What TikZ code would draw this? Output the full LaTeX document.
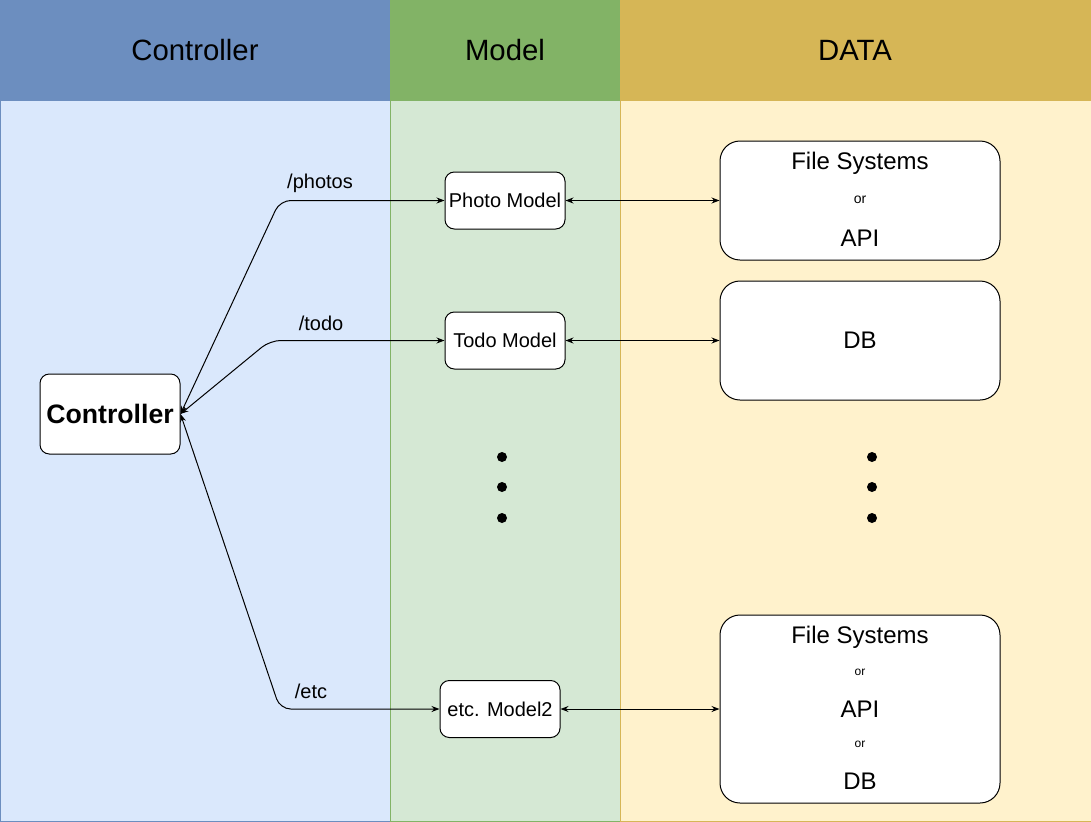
\documentclass[tikz,border=0pt]{standalone}
\usepackage{fontspec}
\setmainfont{Liberation Sans}
\usepackage{xcolor}
\usepackage{tikz}
\usetikzlibrary{arrows.meta, positioning, calc}

\definecolor{ctrlhead}{HTML}{6C8EBF}
\definecolor{ctrlbody}{HTML}{DAE8FC}
\definecolor{modhead}{HTML}{82B366}
\definecolor{modbody}{HTML}{D5E8D4}
\definecolor{datahead}{HTML}{D6B656}
\definecolor{databody}{HTML}{FFF2CC}

\begin{document}
\begin{tikzpicture}[
  x=0.75pt, y=-0.75pt,
  head/.style={font=\fontsize{22}{26}\selectfont},
  box/.style={draw, fill=white, rounded corners=7pt, line width=0.75pt,
              align=center, inner sep=0pt},
  mbox/.style={box, minimum width=90pt, minimum height=42.75pt,
               font=\fontsize{15}{18}\selectfont},
  dbox/.style={box, rounded corners=15pt, minimum width=210pt},
  big/.style={font=\fontsize{18}{21}\selectfont},
  small/.style={font=\fontsize{10.5}{12}\selectfont},
  tiny/.style={font=\fontsize{9}{11}\selectfont},
  lbl/.style={font=\fontsize{15}{18}\selectfont},
  dot/.style={circle, fill=black, inner sep=0pt, minimum size=7.5pt},
  ar/.style={{Stealth[length=6pt,width=4.5pt]}-{Stealth[length=6pt,width=4.5pt]},
             line width=0.75pt, rounded corners=8pt}
]
\useasboundingbox (0,0) rectangle (1091,821);

% lanes
\filldraw[fill=ctrlbody, draw=ctrlhead, line width=0.75pt] (0,100) rectangle (390,821);
\filldraw[fill=modbody, draw=modhead, line width=0.75pt] (390,100) rectangle (620,821);
\filldraw[fill=databody, draw=datahead, line width=0.75pt] (620,100) rectangle (1091,821);
\fill[ctrlhead] (0,0) rectangle (390,100);
\fill[modhead] (390,0) rectangle (620,100);
\fill[datahead] (620,0) rectangle (1091,100);
\node[head] at (195,50) (h-ctrl) {Controller};
\node[head] at (505,50) (h-mod)  {Model};
\node[head] at (855,50) (h-data) {DATA};

% controller
\node[box, minimum width=105pt, minimum height=60pt,
      font=\fontsize{20}{24}\selectfont\bfseries] at (110,414) (ctrl) {Controller};

% models
\node[mbox] at (505,200.5) (photo) {Photo Model};
\node[mbox] at (505,340.5) (todo)  {Todo Model};
\node[mbox] at (500,709)   (etc)   {etc. Model2};

% data stores
\node[dbox, minimum height=89.25pt] at (860,200.5) (fs1) {};
\node[big]   at (860,163) (fs1-a) {File Systems};
\node[small] at (860,200) (fs1-b) {or};
\node[big]   at (860,238) (fs1-c) {API};

\node[dbox, minimum height=89.25pt] at (860,340.5) (db) {};
\node[big] at (860,340) (db-a) {DB};

\node[dbox, minimum height=141pt] at (860,709) (fs2) {};
\node[big]  at (860,637) (fs2-a) {File Systems};
\node[tiny] at (860,672) (fs2-b) {or};
\node[big]  at (860,709) (fs2-c) {API};
\node[tiny] at (860,744) (fs2-d) {or};
\node[big]  at (860,781) (fs2-e) {DB};

% ellipsis
\foreach \y [count=\i] in {457,487,518}{
  \node[dot] at (502,\y) (md\i) {};
  \node[dot] at (872,\y) (dd\i) {};
}

% routes
\draw[ar] (ctrl.east) -- (280,200.5) -- (photo.west);
\draw[ar] (ctrl.east) -- (270,340.5) -- (todo.west);
\draw[ar] (ctrl.east) -- (280,709) -- (etc.west);
\node[lbl] at (320,183) (l-photo) {/photos};
\node[lbl] at (321,323) (l-todo)  {/todo};
\node[lbl] at (311,691) (l-etc)   {/etc};

\draw[ar] (photo.east) -- (fs1.west);
\draw[ar] (todo.east) -- (db.west);
\draw[ar] (etc.east) -- (fs2.west);
\end{tikzpicture}
\end{document}
